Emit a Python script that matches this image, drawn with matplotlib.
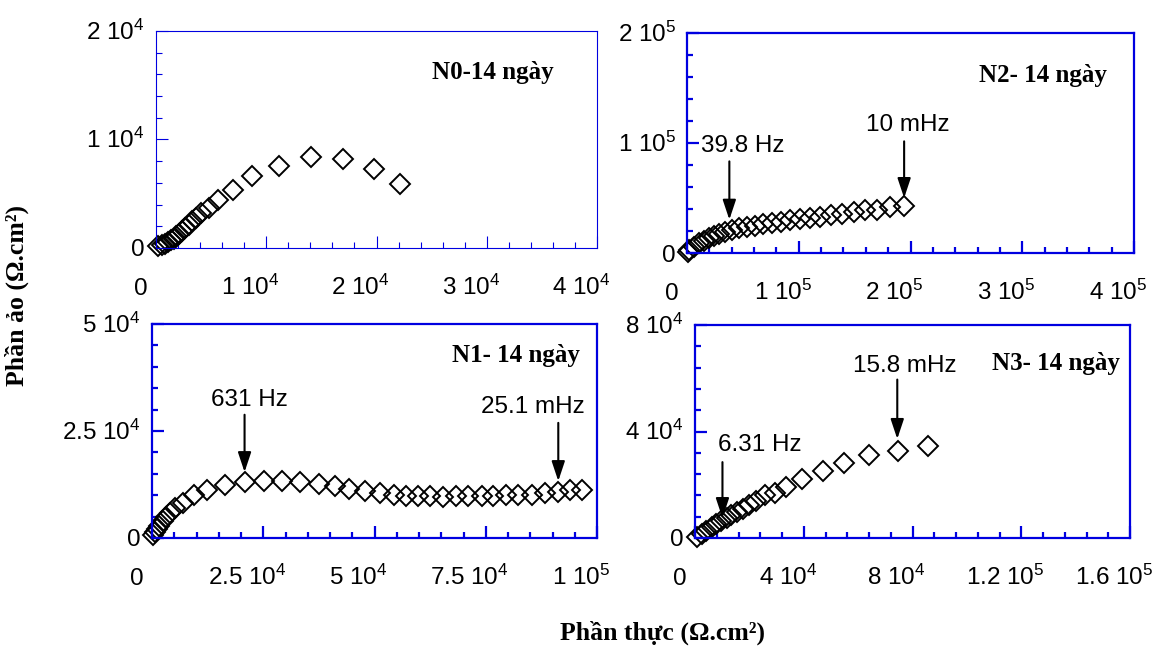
import matplotlib.pyplot as plt
from matplotlib.ticker import AutoMinorLocator
from matplotlib.transforms import ScaledTranslation

plt.rcParams['font.family'] = ['Liberation Sans', 'DejaVu Sans']
plt.rcParams['mathtext.fontset'] = 'custom'
plt.rcParams['mathtext.rm'] = 'Liberation Sans'
plt.rcParams['mathtext.it'] = 'Liberation Sans:italic'
plt.rcParams['mathtext.bf'] = 'Liberation Sans:bold'

# N0 - 14 ngay
n0_re = [210, 520, 830, 1130, 1370, 1590, 1830, 2070, 2350, 2650, 2960, 3290, 3660,
         4120, 4790, 5640, 6950, 8750, 11130, 14050, 17000, 19800, 22100]
n0_im = [150, 250, 370, 520, 710, 860, 1080, 1290, 1540, 1850, 2160, 2460, 2770,
         3230, 3700, 4470, 5390, 6620, 7600, 8350, 8200, 7260, 5880]

# N2 - 14 ngay
n2_re = [500, 2100, 6000, 10400, 14900, 19400, 23900, 29000, 34300, 40300, 46300,
         53700, 60600, 67800, 76100, 84500, 92500, 101500, 110400, 119400, 129300,
         138800, 149300, 159100, 170000, 182000, 194000]
n2_im = [500, 2700, 5700, 8700, 11000, 13400, 15800, 17600, 19400, 21200, 22400,
         23600, 24800, 26000, 27500, 28400, 29900, 30700, 31900, 32800, 34300,
         35800, 37300, 38800, 39500, 41500, 43000]

# N1 - 14 ngay
n1_re = [150, 600, 1120, 1650, 2400, 3140, 4120, 5240, 6890, 9360, 12350, 16470,
         20810, 25070, 29190, 33310, 37430, 41170, 44310, 47900, 51270, 54270,
         57040, 59880, 62500, 65340, 68260, 71110, 74100, 76720, 79490, 82340,
         85330, 88320, 91320, 93940, 96560]
n1_im = [780, 1330, 2110, 2890, 3900, 4920, 5860, 7030, 8200, 10150, 11170, 12500,
         13120, 13430, 13280, 13120, 12730, 12110, 11480, 10930, 10540, 10150,
         9760, 9760, 9760, 9610, 9760, 9760, 9920, 9920, 10150, 10150,
         10150, 10540, 10780, 11170, 11320]

# N3 - 14 ngay
n3_re = [800, 2400, 4200, 6100, 7900, 9700, 11600, 13400, 15500, 17700, 19900,
         22600, 25700, 29300, 33600, 39500, 47100, 54800, 64000, 74500, 85700]
n3_im = [500, 1500, 2750, 4000, 5250, 6250, 7500, 8750, 9750, 11000, 12500,
         14000, 16000, 17000, 19000, 22000, 25200, 28000, 31000, 32600, 34400]

# ticks and labels
n0_xt = [0, 1e4, 2e4, 3e4, 4e4]
n0_xl = ['$0$', r'$1\ 10^{4}$', r'$2\ 10^{4}$', r'$3\ 10^{4}$', r'$4\ 10^{4}$']
n0_yt = [0, 1e4, 2e4]
n0_yl = ['$0$', r'$1\ 10^{4}$', r'$2\ 10^{4}$']

n2_xt = [0, 1e5, 2e5, 3e5, 4e5]
n2_xl = ['$0$', r'$1\ 10^{5}$', r'$2\ 10^{5}$', r'$3\ 10^{5}$', r'$4\ 10^{5}$']
n2_yt = [0, 1e5, 2e5]
n2_yl = ['$0$', r'$1\ 10^{5}$', r'$2\ 10^{5}$']

n1_xt = [0, 2.5e4, 5e4, 7.5e4, 1e5]
n1_xl = ['$0$', r'$2.5\ 10^{4}$', r'$5\ 10^{4}$', r'$7.5\ 10^{4}$', r'$1\ 10^{5}$']
n1_yt = [0, 2.5e4, 5e4]
n1_yl = ['$0$', r'$2.5\ 10^{4}$', r'$5\ 10^{4}$']

n3_xt = [0, 4e4, 8e4, 1.2e5, 1.6e5]
n3_xl = ['$0$', r'$4\ 10^{4}$', r'$8\ 10^{4}$', r'$1.2\ 10^{5}$', r'$1.6\ 10^{5}$']
n3_yt = [0, 4e4, 8e4]
n3_yl = ['$0$', r'$4\ 10^{4}$', r'$8\ 10^{4}$']

BLUE = '#0000e0'
SERIF = ['Liberation Serif', 'DejaVu Serif']

fig = plt.figure(figsize=(11.63, 6.48), dpi=100)


def make_ax(l, t, r, b):
    return fig.add_axes([l / 1163, 1 - b / 648, (r - l) / 1163, (b - t) / 648])


def style(ax, xt, xl, yt, yl, lw):
    ax.set_xlim(xt[0], xt[-1])
    ax.set_ylim(yt[0], yt[-1])
    ax.set_xticks(xt)
    ax.set_xticklabels(xl)
    ax.set_yticks(yt)
    ax.set_yticklabels(yl)
    ax.xaxis.set_minor_locator(AutoMinorLocator(5))
    ax.yaxis.set_minor_locator(AutoMinorLocator(5))
    for s in ax.spines.values():
        s.set_color(BLUE)
        s.set_linewidth(lw)
    ax.tick_params(which='both', direction='in', color=BLUE, width=lw,
                   labelsize=17.5, top=False, right=False)
    ax.tick_params(which='major', length=8.5)
    ax.tick_params(which='minor', length=4.5)
    ax.tick_params(axis='x', pad=34)
    ax.tick_params(axis='y', pad=8)
    dx = ScaledTranslation(-0.16, 0, fig.dpi_scale_trans)
    for lab in ax.get_xticklabels():
        lab.set_va('baseline')
        lab.set_transform(lab.get_transform() + dx)
    dy = ScaledTranslation(0, -0.085, fig.dpi_scale_trans)
    for lab in ax.get_yticklabels():
        lab.set_va('baseline')
        lab.set_transform(lab.get_transform() + dy)


def points(ax, x, y):
    ax.plot(x, y, ls='none', marker='D', ms=10, mfc='none', mec='black',
            mew=1.4, clip_on=False)


def arrow(ax, label, tx, ty, ax_x, y0, y1):
    ax.text(tx, ty, label, ha='center', va='center', fontsize=17.5)
    ax.annotate('', xy=(ax_x, y1), xytext=(ax_x, y0),
                arrowprops=dict(arrowstyle='-|>,head_length=0.6,head_width=0.2',
                                mutation_scale=20, lw=1.5, color='black',
                                shrinkA=0, shrinkB=0))


def tag(ax, fx, fy, s):
    ax.text(fx, fy, s, transform=ax.transAxes, ha='center', va='center',
            fontsize=18, fontweight='bold', family=SERIF)


# top left
ax0 = make_ax(156, 31, 597, 248)
points(ax0, n0_re, n0_im)
style(ax0, n0_xt, n0_xl, n0_yt, n0_yl, 0.8)
tag(ax0, 0.764, 0.811, 'N0-14 ngày')

# top right
ax2 = make_ax(687, 33, 1134, 253)
points(ax2, n2_re, n2_im)
style(ax2, n2_xt, n2_xl, n2_yt, n2_yl, 1.6)
tag(ax2, 0.796, 0.805, 'N2- 14 ngày')
arrow(ax2, '39.8 Hz', 50200, 97000, 37900, 83300, 30300)
arrow(ax2, '10 mHz', 197600, 116700, 194300, 101500, 50000)

# bottom left
ax1 = make_ax(152, 324, 597, 538)
points(ax1, n1_re, n1_im)
style(ax1, n1_xt, n1_xl, n1_yt, n1_yl, 1.6)
tag(ax1, 0.818, 0.855, 'N1- 14 ngày')
arrow(ax1, '631 Hz', 21800, 32300, 20800, 28800, 15400)
arrow(ax1, '25.1 mHz', 85500, 30700, 91300, 26900, 13300)

# bottom right
ax3 = make_ax(695, 325, 1130, 538)
points(ax3, n3_re, n3_im)
style(ax3, n3_xt, n3_xl, n3_yt, n3_yl, 1.6)
tag(ax3, 0.83, 0.817, 'N3- 14 ngày')
arrow(ax3, '15.8 mHz', 77300, 64700, 74400, 59500, 37200)
arrow(ax3, '6.31 Hz', 23800, 35000, 10100, 28500, 7500)

fig.text(663 / 1163, 1 - 633 / 648, 'Phần thực (Ω.cm²)', ha='center', va='center',
         fontsize=18.5, fontweight='bold', family=SERIF)
fig.text(17 / 1163, 1 - 295 / 648, 'Phần ảo (Ω.cm²)', ha='center', va='center',
         rotation=90, fontsize=18.5, fontweight='bold', family=SERIF)

fig.savefig('out.png', dpi=100)
